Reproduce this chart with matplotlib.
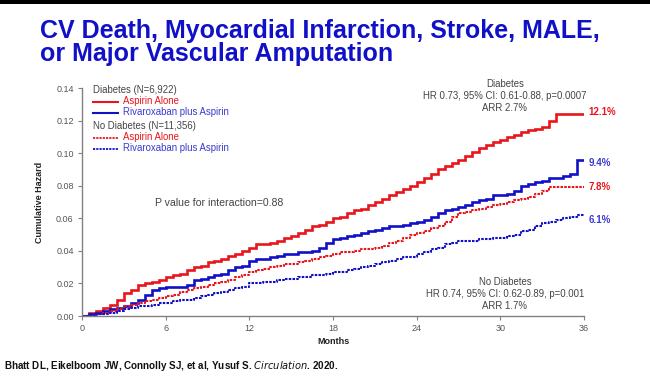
import matplotlib
matplotlib.use("Agg")
import matplotlib.pyplot as plt
from matplotlib.patches import Rectangle

plt.rcParams['font.family'] = ['Liberation Sans', 'DejaVu Sans']

months = [0, 0.5, 1, 1.5, 2, 2.5, 3, 3.5, 4, 4.5, 5, 5.5, 6, 6.5, 7, 7.5, 8, 8.5, 9, 9.5,
          10, 10.5, 11, 11.5, 12, 12.5, 13, 13.5, 14, 14.5, 15, 15.5, 16, 16.5, 17, 17.5,
          18, 18.5, 19, 19.5, 20, 20.5, 21, 21.5, 22, 22.5, 23, 23.5, 24, 24.5, 25, 25.5,
          26, 26.5, 27, 27.5, 28, 28.5, 29, 29.5, 30, 30.5, 31, 31.5, 32, 32.5, 33, 33.5,
          34, 34.5, 35, 35.5, 36]

dia_asa = [0.000, 0.002, 0.003, 0.005, 0.007, 0.010, 0.014, 0.016, 0.019, 0.020, 0.021, 0.022,
           0.024, 0.025, 0.026, 0.028, 0.030, 0.031, 0.033, 0.034, 0.035, 0.037, 0.038, 0.040,
           0.042, 0.044, 0.044, 0.045, 0.046, 0.048, 0.049, 0.051, 0.053, 0.055, 0.056, 0.058,
           0.060, 0.061, 0.063, 0.065, 0.066, 0.068, 0.070, 0.072, 0.074, 0.076, 0.078, 0.080,
           0.082, 0.085, 0.087, 0.090, 0.092, 0.094, 0.096, 0.098, 0.101, 0.103, 0.105, 0.107,
           0.108, 0.110, 0.111, 0.113, 0.114, 0.115, 0.116, 0.120, 0.124, 0.124, 0.124, 0.124,
           0.124]

dia_riva = [0.000, 0.001, 0.002, 0.003, 0.004, 0.005, 0.006, 0.008, 0.010, 0.013, 0.016, 0.017,
            0.018, 0.018, 0.018, 0.019, 0.022, 0.023, 0.024, 0.025, 0.026, 0.028, 0.030, 0.031,
            0.034, 0.035, 0.035, 0.036, 0.037, 0.038, 0.038, 0.039, 0.039, 0.040, 0.042, 0.045,
            0.047, 0.048, 0.049, 0.050, 0.051, 0.052, 0.053, 0.054, 0.055, 0.055, 0.056, 0.057,
            0.058, 0.059, 0.061, 0.063, 0.065, 0.066, 0.067, 0.068, 0.070, 0.071, 0.072, 0.074,
            0.074, 0.075, 0.077, 0.080, 0.081, 0.082, 0.083, 0.085, 0.085, 0.086, 0.087, 0.096,
            0.096]

nodia_asa = [0.000, 0.000, 0.001, 0.002, 0.003, 0.004, 0.006, 0.007, 0.008, 0.009, 0.010, 0.011,
             0.012, 0.013, 0.015, 0.016, 0.017, 0.018, 0.019, 0.020, 0.021, 0.022, 0.024, 0.025,
             0.027, 0.028, 0.029, 0.030, 0.031, 0.032, 0.032, 0.033, 0.034, 0.035, 0.036, 0.037,
             0.038, 0.039, 0.039, 0.040, 0.041, 0.041, 0.042, 0.043, 0.045, 0.046, 0.048, 0.050,
             0.051, 0.052, 0.054, 0.055, 0.058, 0.061, 0.063, 0.064, 0.065, 0.066, 0.067, 0.068,
             0.069, 0.070, 0.071, 0.072, 0.073, 0.075, 0.077, 0.079, 0.079, 0.079, 0.079, 0.079,
             0.079]

nodia_riva = [0.000, 0.000, 0.001, 0.001, 0.002, 0.003, 0.004, 0.005, 0.006, 0.006, 0.007, 0.008,
              0.008, 0.009, 0.010, 0.010, 0.011, 0.012, 0.013, 0.014, 0.015, 0.016, 0.017, 0.018,
              0.020, 0.020, 0.021, 0.021, 0.022, 0.023, 0.023, 0.024, 0.024, 0.025, 0.025, 0.026,
              0.027, 0.027, 0.028, 0.029, 0.030, 0.031, 0.032, 0.033, 0.034, 0.035, 0.036, 0.036,
              0.038, 0.039, 0.041, 0.042, 0.044, 0.045, 0.046, 0.046, 0.046, 0.047, 0.047, 0.048,
              0.048, 0.049, 0.050, 0.052, 0.053, 0.055, 0.057, 0.058, 0.059, 0.060, 0.061, 0.062,
              0.062]

x_ticks = [0, 6, 12, 18, 24, 30, 36]
y_ticks = [0.00, 0.02, 0.04, 0.06, 0.08, 0.10, 0.12, 0.14]
end_labels = ["12.1%", "9.4%", "7.8%", "6.1%"]

RED = '#e8161c'
BLUE = '#1010c8'
LBLUE = '#3a3ad0'
GRAY = '#444444'

W, H = 650, 379
fig = plt.figure(figsize=(W / 100, H / 100), dpi=100)
fig.patch.set_facecolor('white')

def fx(px):
    return px / W

def fy(py):
    return 1 - py / H

# top black band
fig.patches.append(Rectangle((0, fy(4)), 1, 4 / H, transform=fig.transFigure,
                             facecolor='black', edgecolor='none'))

ax = fig.add_axes([fx(82), fy(316), fx(584) - fx(82), fy(88) - fy(316)])
DOT = (0, (1.2, 0.6))
ax.plot(months, dia_asa, color=RED, lw=1.9, drawstyle='steps-post', solid_joinstyle='miter')
ax.plot(months, dia_riva, color=BLUE, lw=1.9, drawstyle='steps-post', solid_joinstyle='miter')
ax.plot(months, nodia_asa, color=RED, lw=1.5, drawstyle='steps-post', linestyle=DOT)
ax.plot(months, nodia_riva, color=BLUE, lw=1.5, drawstyle='steps-post', linestyle=DOT)

ax.set_xlim(0, 36)
ax.set_ylim(0, 0.14)
ax.set_xticks(x_ticks)
ax.set_yticks(y_ticks)
ax.set_yticklabels([f"{v:.2f}" for v in y_ticks])
for s in ['top', 'right']:
    ax.spines[s].set_visible(False)
for s in ['left', 'bottom']:
    ax.spines[s].set_color('#808080')
    ax.spines[s].set_linewidth(1.0)
ax.tick_params(axis='both', colors='#808080', labelcolor='#555555', labelsize=6.5,
               length=3, width=0.8, direction='out', pad=3)
ax.set_facecolor('none')

# end labels
label_y = [0.125, 0.094, 0.079, 0.059]
label_c = [RED, LBLUE, RED, LBLUE]
for lab, yv, c in zip(end_labels, label_y, label_c):
    ax.text(36.3, yv, lab, color=c, fontsize=7, fontweight='bold', va='center', ha='left',
            clip_on=False)

# title
fig.text(fx(40), fy(38), "CV Death, Myocardial Infarction, Stroke, MALE,", color=BLUE,
         fontsize=18, fontweight='bold', ha='left', va='baseline')
fig.text(fx(40), fy(61), "or Major Vascular Amputation", color=BLUE,
         fontsize=18, fontweight='bold', ha='left', va='baseline')

# axis titles
fig.text(fx(333), fy(342), "Months", fontsize=6.5, fontweight='bold', color='#222222',
         ha='center', va='center')
fig.text(fx(40), fy(202), "Cumulative Hazard", fontsize=6.5, fontweight='bold', color='#222222',
         ha='center', va='center', rotation=90)

# legend block
fig.text(fx(93), fy(90), "Diabetes (N=6,922)", fontsize=6.9, color=GRAY, va='center')
fig.text(fx(123), fy(101), "Aspirin Alone", fontsize=6.9, color=RED, va='center')
fig.text(fx(123), fy(112), "Rivaroxaban plus Aspirin", fontsize=6.9, color=LBLUE, va='center')
fig.text(fx(93), fy(126), "No Diabetes (N=11,356)", fontsize=6.9, color=GRAY, va='center')
fig.text(fx(123), fy(137), "Aspirin Alone", fontsize=6.9, color=RED, va='center')
fig.text(fx(123), fy(148), "Rivaroxaban plus Aspirin", fontsize=6.9, color=LBLUE, va='center')
for yy, c, ls in [(102, RED, '-'), (113, BLUE, '-'), (138, RED, DOT), (149, BLUE, DOT)]:
    fig.add_artist(plt.Line2D([fx(93), fx(118)], [fy(yy), fy(yy)], color=c,
                              lw=1.5 if ls == '-' else 1.3, linestyle=ls,
                              transform=fig.transFigure))

fig.text(fx(155), fy(203), "P value for interaction=0.88", fontsize=7.6, color=GRAY, va='center')

fig.text(fx(505), fy(84), "Diabetes", fontsize=6.9, color=GRAY, ha='center', va='center')
fig.text(fx(505), fy(96), "HR 0.73, 95% CI: 0.61-0.88, p=0.0007", fontsize=6.9, color=GRAY,
         ha='center', va='center')
fig.text(fx(505), fy(108), "ARR 2.7%", fontsize=6.9, color=GRAY, ha='center', va='center')

fig.text(fx(505), fy(282), "No Diabetes", fontsize=6.9, color=GRAY, ha='center', va='center')
fig.text(fx(505), fy(294), "HR 0.74, 95% CI: 0.62-0.89, p=0.001", fontsize=6.9, color=GRAY,
         ha='center', va='center')
fig.text(fx(505), fy(306), "ARR 1.7%", fontsize=6.9, color=GRAY, ha='center', va='center')

# footer
fig.text(fx(4), fy(366), r"Bhatt DL, Eikelboom JW, Connolly SJ, et al, Yusuf S. $\it{Circulation}$. 2020.",
         fontsize=7.1, color='#111111', ha='left', va='center', fontweight='bold')

fig.savefig("out.png", dpi=100)
